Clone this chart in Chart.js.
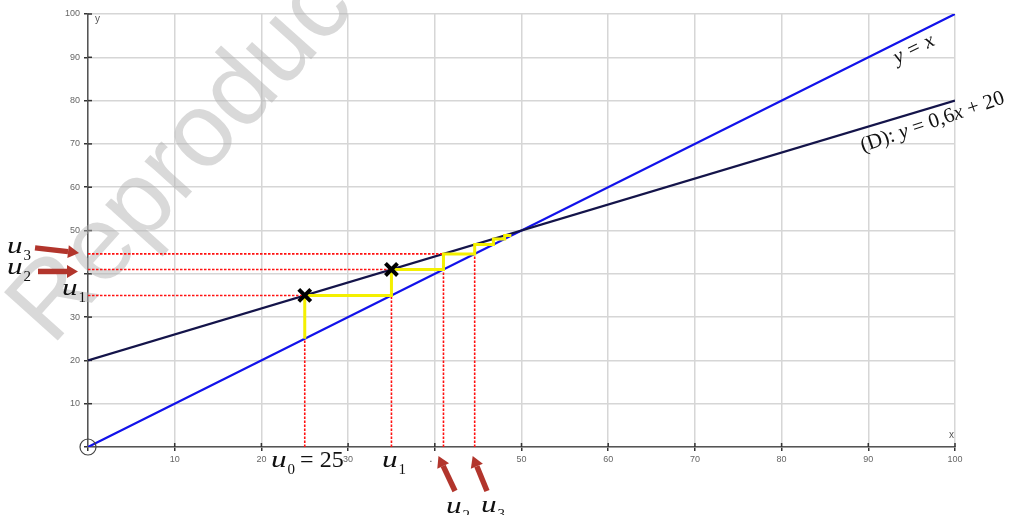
<!DOCTYPE html>
<html>
<head>
<meta charset="utf-8">
<script src="https://cdn.jsdelivr.net/npm/chart.js@4/dist/chart.umd.min.js"></script>
<style>
html,body{margin:0;padding:0;background:#fff;}
#wrap{width:1015px;height:515px;}
</style>
</head>
<body>
<div id="wrap"><canvas id="c" width="1015" height="515"></canvas></div>
<script>
// ---- data ----
const lineX = [0, 100];
const identityY = [0, 100];          // y = x
const dLineY = [20, 80];             // (D): y = 0,6x + 20
const u = [25, 35, 41, 44.6, 46.76, 48.056, 48.834];  // u0..u6
const markedTerms = [0, 1];          // crosses at (u0,u1), (u1,u2)
const dashedTerms = [0, 1, 2, 3];    // red projections
const xTickHidden = [0, 40];
const yTickHidden = [0, 40];

// staircase (yellow)
const stair = [];
for (let k = 0; k < u.length - 1; k++) {
  stair.push({x: u[k], y: u[k]});
  stair.push({x: u[k], y: u[k + 1]});
}
stair.push({x: u[u.length - 1], y: u[u.length - 1]});

const redSets = [];
dashedTerms.forEach(k => {
  redSets.push([{x: u[k], y: 0}, {x: u[k], y: u[k]}]);
  if (k >= 1) redSets.push([{x: 0, y: u[k]}, {x: u[k - 1], y: u[k]}]);
});

const RED = '#ff1010';
const datasets = [];
datasets.push({data: markedTerms.map(k => ({x: u[k], y: u[k + 1]})), showLine: false,
  pointStyle: 'crossRot', pointRadius: 8.5, pointBorderWidth: 4, pointBorderColor: '#000', pointBackgroundColor: '#000'});
datasets.push({data: stair, showLine: true, borderColor: '#f4f000', borderWidth: 3, pointRadius: 0, tension: 0});
redSets.forEach(s => datasets.push({data: s, showLine: true, borderColor: RED, borderWidth: 1.6,
  borderDash: [2.5, 1.5], pointRadius: 0}));
datasets.push({data: lineX.map((x, i) => ({x, y: dLineY[i]})), showLine: true, borderColor: '#14144a', borderWidth: 2.2, pointRadius: 0});
datasets.push({data: lineX.map((x, i) => ({x, y: identityY[i]})), showLine: true, borderColor: '#1212ea', borderWidth: 2.2, pointRadius: 0});

const SERIF = '"Liberation Serif", "Times New Roman", serif';

function drawU(ctx, x, y, sub, size) {
  ctx.save();
  ctx.fillStyle = '#111';
  ctx.textBaseline = 'alphabetic';
  ctx.textAlign = 'left';
  ctx.font = 'italic ' + size + 'px ' + SERIF;
  ctx.save();
  ctx.translate(x, y);
  ctx.scale(1.3, 1);
  ctx.fillText('u', 0, 0);
  const w = ctx.measureText('u').width * 1.3;
  ctx.restore();
  ctx.font = Math.round(size * 0.62) + 'px ' + SERIF;
  ctx.fillText(sub, x + w + 1, y + size * 0.28);
  const w2 = ctx.measureText(sub).width;
  ctx.restore();
  return x + w + 1 + w2;
}

function arrow(ctx, x1, y1, x2, y2) {
  const ang = Math.atan2(y2 - y1, x2 - x1);
  const head = 11, hw = 6.5;
  const bx = x2 - head * Math.cos(ang), by = y2 - head * Math.sin(ang);
  ctx.save();
  ctx.strokeStyle = '#b2352c';
  ctx.fillStyle = '#b2352c';
  ctx.lineWidth = 5.5;
  ctx.lineCap = 'butt';
  ctx.beginPath(); ctx.moveTo(x1, y1); ctx.lineTo(bx, by); ctx.stroke();
  ctx.beginPath();
  ctx.moveTo(x2, y2);
  ctx.lineTo(bx + hw * Math.sin(ang), by - hw * Math.cos(ang));
  ctx.lineTo(bx - hw * Math.sin(ang), by + hw * Math.cos(ang));
  ctx.closePath(); ctx.fill();
  ctx.restore();
}

const annot = {
  id: 'annot',
  beforeDatasetsDraw(chart) {
    const ctx = chart.ctx, a = chart.chartArea;
    const xs = chart.scales.x, ys = chart.scales.y;
    // inner tick marks
    ctx.save();
    ctx.strokeStyle = '#333'; ctx.lineWidth = 1.5;
    for (let v = 10; v <= 100; v += 10) {
      const py = ys.getPixelForValue(v), px = xs.getPixelForValue(v);
      ctx.beginPath(); ctx.moveTo(a.left, py); ctx.lineTo(a.left + 4, py); ctx.stroke();
      ctx.beginPath(); ctx.moveTo(px, a.bottom); ctx.lineTo(px, a.bottom - 4); ctx.stroke();
    }
    ctx.restore();
    // watermark
    ctx.save();
    ctx.translate(52, 347);
    ctx.rotate(-48 * Math.PI / 180);
    ctx.font = '105px "Liberation Sans", Arial, sans-serif';
    ctx.fillStyle = 'rgba(175,175,175,0.48)';
    ctx.textBaseline = 'alphabetic';
    ctx.fillText('Reproduction interdite', 0, 0);
    ctx.restore();
  },
  afterDraw(chart) {
    const ctx = chart.ctx, a = chart.chartArea;
    const xs = chart.scales.x, ys = chart.scales.y;
    const X = v => xs.getPixelForValue(v), Y = v => ys.getPixelForValue(v);
    // origin circle
    ctx.save();
    ctx.strokeStyle = '#444'; ctx.lineWidth = 1.2;
    ctx.beginPath(); ctx.arc(X(0), Y(0), 8, 0, Math.PI * 2); ctx.stroke();
    ctx.restore();
    // axis names
    ctx.save();
    ctx.fillStyle = '#555';
    ctx.font = '10px "Liberation Sans", Arial, sans-serif';
    ctx.textBaseline = 'alphabetic';
    ctx.fillText('y', a.left + 7, a.top + 8);
    ctx.fillText('x', a.right - 6, a.bottom - 9);
    ctx.fillStyle = '#333';
    ctx.fillText('.', X(39.4), a.bottom + 15);
    ctx.restore();
    // line labels
    ctx.save();
    ctx.fillStyle = '#111';
    ctx.font = 'italic 21px ' + SERIF;
    ctx.translate(897, 64);
    ctx.rotate(-26.5 * Math.PI / 180);
    ctx.fillText('y = x', 0, 0);
    ctx.restore();
    ctx.save();
    ctx.fillStyle = '#111';
    ctx.translate(863, 152);
    ctx.rotate(-19 * Math.PI / 180);
    const fs = 21;
    ctx.font = fs + 'px ' + SERIF;
    let t = '(D): ';
    ctx.fillText(t, 0, 0);
    let cx = ctx.measureText(t).width;
    ctx.font = 'italic ' + fs + 'px ' + SERIF;
    ctx.fillText('y', cx, 0); cx += ctx.measureText('y ').width;
    ctx.font = fs + 'px ' + SERIF;
    ctx.fillText('= 0,6', cx, 0); cx += ctx.measureText('= 0,6').width;
    ctx.font = 'italic ' + fs + 'px ' + SERIF;
    ctx.fillText('x', cx, 0); cx += ctx.measureText('x ').width;
    ctx.font = fs + 'px ' + SERIF;
    ctx.fillText('+ 20', cx, 0);
    ctx.restore();
    // u labels
    const end = drawU(ctx, 271, 467, '0', 24);
    ctx.save();
    ctx.fillStyle = '#111';
    ctx.font = '24px ' + SERIF;
    ctx.fillText(' = 25', end - 1, 467);
    ctx.restore();
    drawU(ctx, 382, 467, '1', 24);
    drawU(ctx, 446, 513, '2', 24);
    drawU(ctx, 481, 512, '3', 24);
    drawU(ctx, 62, Y(u[1]) + 0, '1', 24);
    drawU(ctx, 7, Y(u[2]) + 5, '2', 24);
    drawU(ctx, 7, Y(u[3]) - 1, '3', 24);
    // arrows
    arrow(ctx, 35, Y(u[3]) - 6, 79, Y(u[3]) - 1);
    arrow(ctx, 38, Y(u[2]) + 2, 78, Y(u[2]) + 2);
    arrow(ctx, 455, 491, X(u[2]) - 5, a.bottom + 9);
    arrow(ctx, 487, 491, X(u[3]) - 2, a.bottom + 9);
  }
};

new Chart(document.getElementById('c'), {
  type: 'scatter',
  data: {datasets},
  options: {
    responsive: false,
    animation: false,
    events: [],
    layout: {padding: {left: 0, right: 60, top: 14, bottom: 0}},
    plugins: {legend: {display: false}, tooltip: {enabled: false}},
    scales: {
      x: {
        type: 'linear', min: 0, max: 100,
        afterFit(s) { s.height = 68; },
        ticks: {stepSize: 10, autoSkip: false, maxRotation: 0, padding: 3,
          color: '#666', font: {size: 9, family: '"Liberation Sans", Arial, sans-serif'},
          callback: v => xTickHidden.includes(v) ? '' : String(v)},
        grid: {color: '#d6d6d6', lineWidth: 1.5, tickLength: 4, tickColor: '#333', tickWidth: 1.5},
        border: {color: '#555', width: 1.5}
      },
      y: {
        type: 'linear', min: 0, max: 100,
        afterFit(s) { s.width = 88; },
        ticks: {stepSize: 10, autoSkip: false, padding: 4,
          color: '#666', font: {size: 9, family: '"Liberation Sans", Arial, sans-serif'},
          callback: v => yTickHidden.includes(v) ? '' : String(v)},
        grid: {color: '#d6d6d6', lineWidth: 1.5, tickLength: 4, tickColor: '#333', tickWidth: 1.5},
        border: {color: '#555', width: 1.5}
      }
    }
  },
  plugins: [annot]
});
</script>
</body>
</html>
